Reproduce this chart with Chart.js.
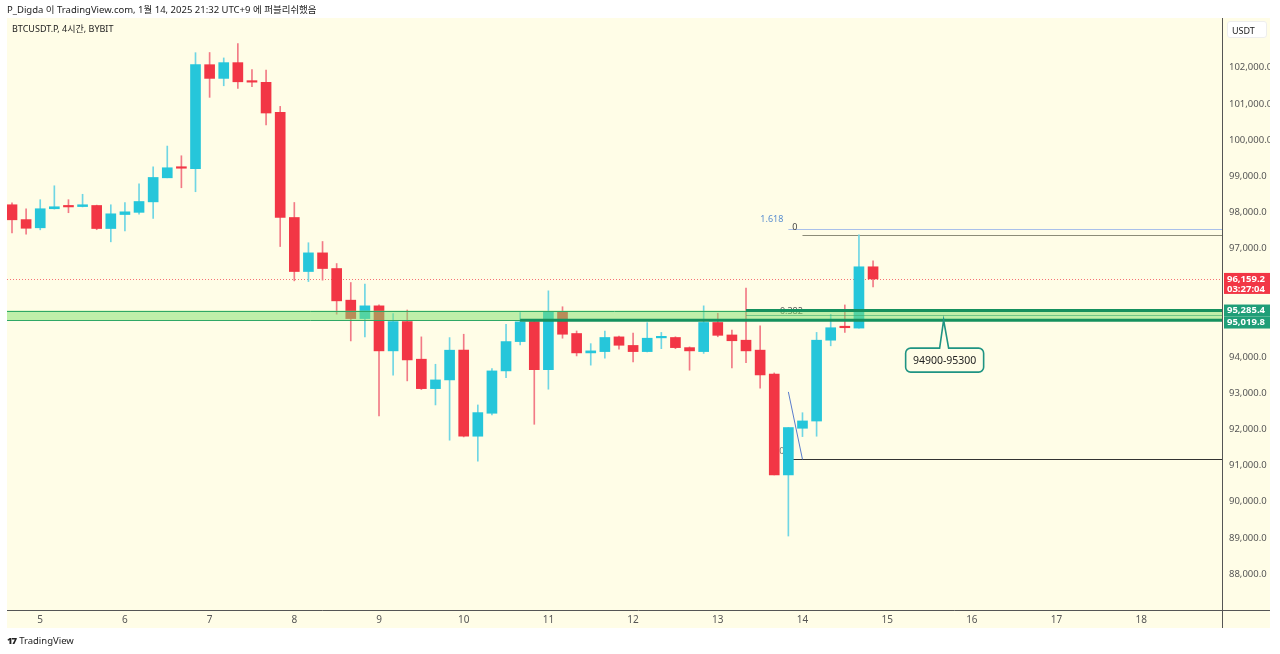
<!DOCTYPE html>
<html>
<head>
<meta charset="utf-8">
<script src="https://cdn.jsdelivr.net/npm/chart.js@4.4.1/dist/chart.umd.min.js"></script>
<style>
  body { margin: 0; background: #fff; font-family: "Noto Sans", "Noto Sans CJK KR", sans-serif; }
  #wrap { position: relative; width: 1280px; height: 654px; overflow: hidden; }
  canvas { position: absolute; left: 0; top: 0; }
  .hdr { position: absolute; left: 7px; top: 2px; font-size: 9.5px; color: #222; white-space: nowrap; }
  .sym { position: absolute; left: 12px; top: 22px; font-size: 9px; color: #222; white-space: nowrap; }
  .unit { position: absolute; left: 1227px; top: 21px; width: 40px; height: 17px; background: #fff; border: 1px solid #eee;
          border-radius: 3px; font-size: 9px; color: #222; line-height: 17px; padding-left: 4px; box-sizing: border-box; }
  .foot { position: absolute; left: 7px; top: 634px; font-size: 9.5px; color: #222; white-space: nowrap; }
  .foot b { font-weight: 900; letter-spacing: -1px; margin-right: 3px; }
</style>
</head>
<body>
<div id="wrap">
  <canvas id="chart" width="1280" height="654"></canvas>
  <div class="hdr">P_Digda 이 TradingView.com, 1월 14, 2025 21:32 UTC+9 에 퍼블리쉬했음</div>
  <div class="sym">BTCUSDT.P, 4시간, BYBIT</div>
  <div class="unit">USDT</div>
  <div class="foot"><b>17</b>TradingView</div>
</div>
<script>
// day labels and the candle index where each day starts
const dayLabels = ['5', '6', '7', '8', '9', '10', '11', '12', '13', '14', '15', '16', '17', '18'];
const dayStart = [2, 8, 14, 20, 26, 32, 38, 44, 50, 56, 62, 68, 74, 80];

// 4h candles, BTCUSDT.P
const opens  = [98210, 97800, 97573, 98100, 98170, 98160, 98190, 97553, 97940, 98000, 98290, 98955, 99240, 99205, 102083, 101704, 102140, 101620, 101595, 100765,
                97858, 96364, 96880, 96447, 95572, 95063, 95415, 94170, 94980, 93940, 93126, 93367, 94189, 91810, 92445, 93616, 94427, 94980, 93650, 95260,
                94650, 94114, 94150, 94557, 94320, 94150, 94530, 94540, 94260, 94150, 94955, 94610, 94465, 94190, 93525, 90740, 92030, 92230, 94465, 94830,
                94800, 96495];
const highs  = [98265, 98100, 98350, 98735, 98350, 98500, 98200, 98210, 98270, 98790, 99260, 99833, 99565, 102415, 102420, 102270, 102670, 101945, 101935, 100930,
                98273, 97160, 97194, 96585, 96060, 96015, 95440, 95200, 95300, 94557, 93800, 94537, 94630, 92675, 93680, 94906, 95230, 95000, 95830, 95390,
                94720, 94370, 94720, 94580, 94660, 94950, 94680, 94560, 94280, 95415, 95210, 94745, 95905, 94860, 93560, 92050, 92460, 94680, 95180, 95440,
                97380, 96660];
const lows   = [97434, 97400, 97517, 98090, 97990, 98150, 97520, 97185, 97490, 97950, 97830, 98955, 98680, 98570, 101180, 101500, 101430, 101475, 100415, 97055,
                96106, 96087, 96125, 95185, 94445, 94557, 92370, 93497, 93340, 93100, 92675, 91700, 91790, 91120, 92400, 93430, 94335, 92140, 93110, 94520,
                94030, 93775, 93965, 94215, 93865, 94140, 94230, 94230, 93635, 94100, 94560, 93700, 93845, 93140, 90740, 89050, 91800, 91810, 94310, 94680,
                94800, 95940];
const closes = [97794, 97560, 98100, 98155, 98150, 98210, 97553, 97960, 98015, 98300, 98965, 99233, 99220, 102083, 101704, 102140, 101610, 101600, 100747, 97858,
                96364, 96880, 96447, 95553, 95063, 95415, 94170, 94980, 93920, 93126, 93367, 94189, 91810, 92463, 93616, 94427, 94972, 93650, 95260, 94630,
                94114, 94170, 94540, 94325, 94150, 94520, 94540, 94260, 94170, 94955, 94600, 94450, 94170, 93505, 90740, 92050, 92233, 94465, 94810, 94810,
                96495, 96159.2];

const yTicks = [88000, 89000, 90000, 91000, 92000, 93000, 94000, 97000, 98000, 99000, 100000, 101000, 102000];

const lastPrice = 96159.2;
const countdown = '03:27:04';
const zoneLow = 95019.8;
const zoneHigh = 95285.4;
const zoneMid = 95150;
const zoneLineStart = [36, 52];   // candle index where the thick lines begin (low, high)
const calloutIndex = 66;
const calloutText = '94900-95300';

// fib drawing (index where each line starts, price)
const fibLines = [
  { label: '1.618', price: 97545, from: 55, color: '#a9c0ea' },
  { label: '0', price: 97380, from: 56, color: '#8c8c78' },
  { label: '0.1', price: 91170, from: 55, color: '#333333' }
];
const fibLabel382 = { label: '0.382', price: 95200, at: 54.4 };
const fibDiag = [[55, 93035], [56, 91170]];

const UP = '#26c6da', DOWN = '#f23645';
const UP_WICK = '#6fd6e4', DOWN_WICK = '#f27a86';
const BG = '#fffde7';

const dirUp = closes.map((c, i) => c >= opens[i]);
const bodies = opens.map((o, i) => ({ x: i, y: [o, closes[i]] }));
const wicks = lows.map((l, i) => ({ x: i, y: [l, highs[i]] }));

const fmt = v => v.toLocaleString('en-US', { minimumFractionDigits: 1, maximumFractionDigits: 1 });

const overlay = {
  id: 'overlay',
  beforeDraw(chart) {
    const ctx = chart.ctx;
    ctx.save();
    ctx.fillStyle = '#fff';
    ctx.fillRect(0, 0, 1280, 654);
    ctx.fillStyle = BG;
    ctx.fillRect(7, 18, 1263, 610);
    ctx.restore();
  },
  beforeDatasetsDraw(chart) {
    const { ctx, chartArea: a, scales: { x, y } } = chart;
    ctx.save();
    // current price dotted line
    ctx.strokeStyle = 'rgba(242, 54, 69, 0.7)';
    ctx.lineWidth = 1;
    ctx.setLineDash([1, 2]);
    ctx.beginPath();
    ctx.moveTo(a.left, Math.round(y.getPixelForValue(lastPrice)) + 0.5);
    ctx.lineTo(a.right, Math.round(y.getPixelForValue(lastPrice)) + 0.5);
    ctx.stroke();
    ctx.setLineDash([]);

    // fib lines
    ctx.font = '9px "Noto Sans"';
    fibLines.forEach(f => {
      const py = Math.round(y.getPixelForValue(f.price)) + 0.5;
      const px = x.getPixelForValue(f.from);
      ctx.strokeStyle = f.color;
      ctx.beginPath();
      ctx.moveTo(px, py);
      ctx.lineTo(a.right, py);
      ctx.stroke();
    });
    ctx.fillStyle = '#5b8fd0';
    ctx.textAlign = 'right';
    ctx.fillText('1.618', x.getPixelForValue(fibLines[0].from) - 5, y.getPixelForValue(fibLines[0].price) - 7);
    ctx.fillStyle = '#444';
    ctx.textAlign = 'left';
    ctx.fillText('0', x.getPixelForValue(fibLines[0].from) + 4, y.getPixelForValue(fibLines[0].price) + 1);
    ctx.fillStyle = '#777';
    ctx.fillText('0.1', x.getPixelForValue(fibLines[2].from) - 9, y.getPixelForValue(fibLines[2].price) - 5);
    ctx.fillStyle = '#555';
    ctx.fillText('0.382', x.getPixelForValue(fibLabel382.at), y.getPixelForValue(fibLabel382.price));

    // fib diagonal
    ctx.strokeStyle = '#5a7ccc';
    ctx.beginPath();
    ctx.moveTo(x.getPixelForValue(fibDiag[0][0]), y.getPixelForValue(fibDiag[0][1]));
    ctx.lineTo(x.getPixelForValue(fibDiag[1][0]), y.getPixelForValue(fibDiag[1][1]));
    ctx.stroke();
    ctx.restore();
  },
  afterDatasetsDraw(chart) {
    const { ctx, chartArea: a, scales: { x, y } } = chart;
    ctx.save();
    const yHi = y.getPixelForValue(zoneHigh), yLo = y.getPixelForValue(zoneLow);
    // support zone
    ctx.fillStyle = 'rgba(128, 226, 108, 0.5)';
    ctx.fillRect(a.left, yHi, a.right - a.left, yLo - yHi);
    ctx.strokeStyle = '#2fa866';
    ctx.lineWidth = 1;
    [yHi, yLo].forEach(py => {
      ctx.beginPath();
      ctx.moveTo(a.left, Math.round(py) + 0.5);
      ctx.lineTo(a.right, Math.round(py) + 0.5);
      ctx.stroke();
    });
    ctx.strokeStyle = 'rgba(60, 170, 110, 0.6)';
    ctx.beginPath();
    ctx.moveTo(x.getPixelForValue(zoneLineStart[1]), Math.round(y.getPixelForValue(zoneMid)) + 0.5);
    ctx.lineTo(a.right, Math.round(y.getPixelForValue(zoneMid)) + 0.5);
    ctx.stroke();
    // thick lines
    ctx.strokeStyle = '#15915e';
    ctx.lineWidth = 3;
    [[zoneLow, zoneLineStart[0]], [zoneHigh, zoneLineStart[1]]].forEach(([p, from]) => {
      ctx.beginPath();
      ctx.moveTo(x.getPixelForValue(from), y.getPixelForValue(p));
      ctx.lineTo(a.right, y.getPixelForValue(p));
      ctx.stroke();
    });

    // callout
    const cx = x.getPixelForValue(calloutIndex), ay = yLo;
    const bw = 78, bh = 24, top = ay + 28, left = cx - 38;
    ctx.fillStyle = BG;
    ctx.strokeStyle = '#1f9483';
    ctx.lineWidth = 1.6;
    ctx.beginPath();
    ctx.moveTo(left + 5, top);
    ctx.lineTo(cx - 4, top);
    ctx.lineTo(cx, ay);
    ctx.lineTo(cx + 5, top);
    ctx.lineTo(left + bw - 5, top);
    ctx.arcTo(left + bw, top, left + bw, top + 5, 5);
    ctx.lineTo(left + bw, top + bh - 5);
    ctx.arcTo(left + bw, top + bh, left + bw - 5, top + bh, 5);
    ctx.lineTo(left + 5, top + bh);
    ctx.arcTo(left, top + bh, left, top + bh - 5, 5);
    ctx.lineTo(left, top + 5);
    ctx.arcTo(left, top, left + 5, top, 5);
    ctx.closePath();
    ctx.fill();
    ctx.stroke();
    ctx.fillStyle = '#222';
    ctx.font = '10.5px "Noto Sans"';
    ctx.textAlign = 'center';
    ctx.textBaseline = 'middle';
    ctx.fillText(calloutText, left + bw / 2, top + bh / 2 + 1);
    ctx.restore();
  },
  afterDraw(chart) {
    const { ctx, chartArea: a, scales: { y } } = chart;
    ctx.save();
    // axis frame
    ctx.strokeStyle = '#555';
    ctx.lineWidth = 1;
    ctx.beginPath();
    ctx.moveTo(a.left, a.bottom + 0.5);
    ctx.lineTo(1270, a.bottom + 0.5);
    ctx.moveTo(a.right + 0.5, 18);
    ctx.lineTo(a.right + 0.5, 628);
    ctx.stroke();

    // price labels on the axis
    const tag = (py, h, bg, lines) => {
      ctx.fillStyle = bg;
      ctx.fillRect(a.right + 2, py, 46, h);
      ctx.fillStyle = '#fff';
      ctx.font = 'bold 9.5px "Noto Sans"';
      ctx.textAlign = 'left';
      ctx.textBaseline = 'middle';
      lines.forEach((t, i) => ctx.fillText(t, a.right + 5, py + 6 + i * 10));
    };
    const pLast = y.getPixelForValue(lastPrice);
    tag(pLast - 6, 21, DOWN, [fmt(lastPrice), countdown]);
    const pHi = y.getPixelForValue(zoneHigh);
    tag(pHi - 6, 12, '#1f9e78', [fmt(zoneHigh)]);
    tag(pHi + 6, 12, '#1f9e78', [fmt(zoneLow)]);
    ctx.restore();
  }
};

new Chart(document.getElementById('chart'), {
  type: 'bar',
  data: {
    datasets: [
      {
        data: bodies,
        backgroundColor: dirUp.map(u => u ? UP : DOWN),
        barThickness: 10,
        minBarLength: 1.5,
        grouped: false,
        order: 1
      },
      {
        data: wicks,
        backgroundColor: dirUp.map(u => u ? UP_WICK : DOWN_WICK),
        barThickness: 1,
        grouped: false,
        order: 2
      }
    ]
  },
  options: {
    responsive: false,
    devicePixelRatio: 1,
    animation: false,
    layout: { padding: { left: 7, top: 18, right: 10, bottom: 26 } },
    plugins: { legend: { display: false }, tooltip: { enabled: false } },
    scales: {
      x: {
        type: 'linear',
        offset: false,
        min: -0.354,
        max: 85.72,
        grid: { display: false, drawTicks: false, offset: false },
        border: { display: false },
        afterBuildTicks: s => { s.ticks = dayStart.map(v => ({ value: v })); },
        afterFit: s => { s.height = 18; },
        ticks: {
          autoSkip: false,
          maxRotation: 0,
          padding: 4,
          color: '#555',
          font: { size: 10, family: 'Noto Sans' },
          callback: (v, i) => dayLabels[i]
        }
      },
      y: {
        position: 'right',
        min: 87005,
        max: 103374,
        grid: { display: false, drawTicks: false },
        border: { display: false },
        afterBuildTicks: s => { s.ticks = yTicks.map(v => ({ value: v })); },
        afterFit: s => { s.width = 48; },
        ticks: {
          padding: 7,
          color: '#555',
          font: { size: 9.5, family: 'Noto Sans' },
          callback: v => fmt(v)
        }
      }
    }
  },
  plugins: [overlay]
});
</script>
</body>
</html>
